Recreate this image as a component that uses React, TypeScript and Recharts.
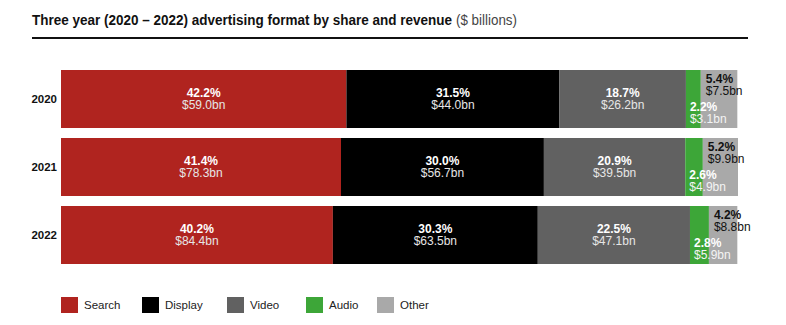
import { BarChart, Bar, XAxis, YAxis, LabelList } from "recharts";

// shares are % of the year's total, revenue is $bn
const years = ["2020", "2021", "2022"];
const searchShare = [42.2, 41.4, 40.2];
const displayShare = [31.5, 30.0, 30.3];
const videoShare = [18.7, 20.9, 22.5];
const audioShare = [2.2, 2.6, 2.8];
const otherShare = [5.4, 5.2, 4.2];
const searchRevenue = [59.0, 78.3, 84.4];
const displayRevenue = [44.0, 56.7, 63.5];
const videoRevenue = [26.2, 39.5, 47.1];
const audioRevenue = [3.1, 4.9, 5.9];
const otherRevenue = [7.5, 9.9, 8.8];

const FONT = "'Liberation Sans', Arial, Helvetica, sans-serif";

const segments = [
    { key: "search", name: "Search", color: "#B0241F", share: searchShare, revenue: searchRevenue, mode: "center" },
    { key: "display", name: "Display", color: "#000000", share: displayShare, revenue: displayRevenue, mode: "center" },
    { key: "video", name: "Video", color: "#616161", share: videoShare, revenue: videoRevenue, mode: "center" },
    { key: "audio", name: "Audio", color: "#3DA638", share: audioShare, revenue: audioRevenue, mode: "bottom" },
    { key: "other", name: "Other", color: "#A9A9A9", share: otherShare, revenue: otherRevenue, mode: "top" },
];

const data = years.map((year, i) => {
    const row: Record<string, any> = { year };
    segments.forEach((s) => {
        row[s.key] = s.share[i];
    });
    return row;
});

const makeLabel = (seg: any) => (props: any) => {
    const { x, y, width, height, index } = props;
    const pct = `${seg.share[index].toFixed(1)}%`;
    const rev = `$${seg.revenue[index].toFixed(1)}bn`;
    if (seg.mode === "center") {
        const cx = x + width / 2;
        const cy = y + height / 2;
        return (
            <g>
                <text x={cx} y={cy - 5} textAnchor="middle" dominantBaseline="middle" fill="#fff" fontSize={12} fontWeight="bold" fontFamily={FONT}>
                    {pct}
                </text>
                <text x={cx} y={cy + 7} textAnchor="middle" dominantBaseline="middle" fill="#e6e6e6" fontSize={12} fontFamily={FONT}>
                    {rev}
                </text>
            </g>
        );
    }
    const top = seg.mode === "top";
    const tx = x + (top ? 5 : 4);
    const y1 = top ? y + 10 : y + height - 20;
    const fill = top ? "#111" : "#fff";
    return (
        <g>
            <text x={tx} y={y1} dominantBaseline="middle" fill={fill} fontSize={12} fontWeight="bold" fontFamily={FONT}>
                {pct}
            </text>
            <text x={tx} y={y1 + 12} dominantBaseline="middle" fill={top ? "#111" : "#f4f4f4"} fontSize={12} fontFamily={FONT}>
                {rev}
            </text>
        </g>
    );
};

// legend item left edges in the reference
const legendX = [61, 142, 227, 306, 377];

export default function App() {
    return (
        <div style={{ position: "absolute", left: 0, top: 0, width: 786, height: 325, background: "#fff", fontFamily: FONT }}>
            <svg width={786} height={45} style={{ position: "absolute", left: 0, top: 0 }}>
                <text x={32} y={25} fontSize={14.5} fontWeight="bold" fontFamily={FONT} fill="#111" textLength={420} lengthAdjust="spacingAndGlyphs">
                    Three year (2020 – 2022) advertising format by share and revenue
                </text>
                <text x={456} y={25} fontSize={14.5} fontFamily={FONT} fill="#444" textLength={61} lengthAdjust="spacingAndGlyphs">
                    ($ billions)
                </text>
                <rect x={32} y={37} width={716} height={2} fill="#111" />
            </svg>
            <div style={{ position: "absolute", left: 0, top: 0 }}>
                <BarChart
                    width={786}
                    height={325}
                    data={data}
                    layout="vertical"
                    margin={{ top: 65, right: 48, bottom: 56, left: 0 }}
                    barCategoryGap={0}
                >
                    <XAxis type="number" domain={[0, 100]} hide />
                    <YAxis
                        type="category"
                        dataKey="year"
                        width={61}
                        tickLine={false}
                        axisLine={false}
                        dx={4}
                        tick={{ fill: "#111", fontSize: 11.5, fontWeight: "bold", fontFamily: FONT }}
                    />
                    {segments.map((s) => (
                        <Bar key={s.key} dataKey={s.key} name={s.name} stackId="a" fill={s.color} barSize={58} isAnimationActive={false}>
                            <LabelList dataKey={s.key} content={makeLabel(s)} />
                        </Bar>
                    ))}
                </BarChart>
            </div>
            {segments.map((s, i) => (
                <div
                    key={s.key}
                    style={{ position: "absolute", left: legendX[i], top: 297, display: "flex", alignItems: "center", fontSize: 11.5, color: "#222" }}
                >
                    <span style={{ width: 17, height: 16, background: s.color, display: "inline-block", marginRight: 6 }} />
                    <span>{s.name}</span>
                </div>
            ))}
        </div>
    );
}
